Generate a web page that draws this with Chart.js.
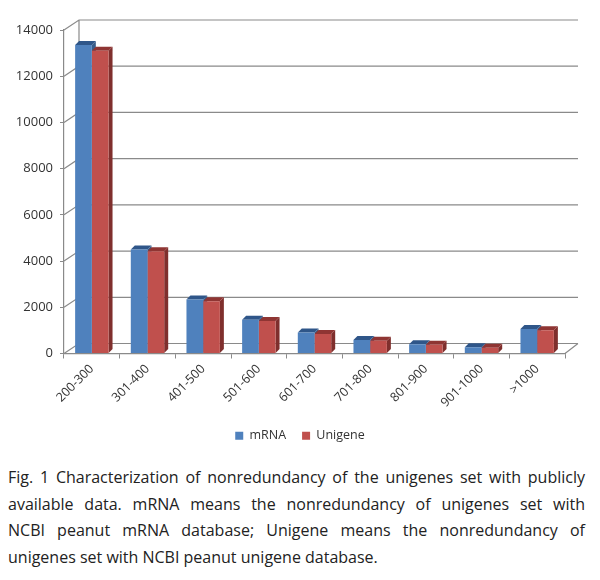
<!DOCTYPE html>
<html>
<head>
<meta charset="utf-8">
<script src="https://cdn.jsdelivr.net/npm/chart.js@4.4.1/dist/chart.umd.min.js"></script>
<style>
  body { margin: 0; background: #fff; }
  #wrap { position: relative; width: 600px; height: 452px; }
  #caption {
    position: absolute; left: 8px; top: 464px; width: 577px;
    font-family: "Open Sans", sans-serif; font-size: 16px; line-height: 26.5px;
    color: #222;
  }
  #caption div { text-align: justify; text-align-last: justify; white-space: nowrap; }
  #caption div.last { text-align-last: left; }
</style>
</head>
<body>
<div id="wrap"><canvas id="chart"></canvas></div>
<div id="caption">
  <div>Fig. 1 Characterization of nonredundancy of the unigenes set with publicly</div>
  <div>available data. mRNA means the nonredundancy of unigenes set with</div>
  <div>NCBI peanut mRNA database; Unigene means the nonredundancy of</div>
  <div class="last">unigenes set with NCBI peanut unigene database.</div>
</div>
<script>
const categories = ['200-300', '301-400', '401-500', '501-600', '601-700', '701-800', '801-900', '901-1000', '>1000'];
const mrna = [13350, 4500, 2340, 1460, 910, 580, 400, 270, 1060];
const unigene = [13100, 4420, 2260, 1410, 840, 550, 380, 250, 1010];
const yTicks = [0, 2000, 4000, 6000, 8000, 10000, 12000, 14000];

const gridColor = '#8a8a8a';
const wallDx = 15, wallDy = -10;   // back wall offset
const barDx = 4, barDy = -4;       // bar depth

// fake 3D: back wall grid + floor, then bar top/side faces
const threeD = {
  id: 'threeD',
  beforeDatasetsDraw(chart) {
    const { ctx, chartArea: a, scales: { y } } = chart;
    ctx.save();
    ctx.strokeStyle = gridColor;
    ctx.lineWidth = 1.2;
    ctx.beginPath();
    yTicks.forEach(v => {
      const py = y.getPixelForValue(v);
      ctx.moveTo(a.left, py);
      ctx.lineTo(a.left + wallDx, py + wallDy);
      ctx.lineTo(a.right + 13, py + wallDy);
    });
    ctx.moveTo(a.left + wallDx, y.getPixelForValue(14000) + wallDy);
    ctx.lineTo(a.left + wallDx, a.bottom + wallDy);
    ctx.moveTo(a.right, a.bottom);
    ctx.lineTo(a.right + 13, a.bottom + wallDy);
    ctx.stroke();

    const sides = ['#385d8a', '#7f2f2d'];
    const tops = ['#2f5689', '#8f3533'];
    chart.data.datasets.forEach((ds, i) => {
      chart.getDatasetMeta(i).data.forEach(bar => {
        const l = bar.x - bar.width / 2, r = bar.x + bar.width / 2;
        const t = bar.y, b = bar.base;
        ctx.fillStyle = sides[i];
        ctx.beginPath();
        ctx.moveTo(r, t); ctx.lineTo(r + barDx, t + barDy);
        ctx.lineTo(r + barDx, b + barDy); ctx.lineTo(r, b);
        ctx.closePath(); ctx.fill();
        ctx.fillStyle = tops[i];
        ctx.beginPath();
        ctx.moveTo(l, t); ctx.lineTo(l + barDx, t + barDy);
        ctx.lineTo(r + barDx, t + barDy); ctx.lineTo(r, t);
        ctx.closePath(); ctx.fill();
      });
    });
    ctx.restore();
  }
};

new Chart(document.getElementById('chart'), {
  type: 'bar',
  data: {
    labels: categories,
    datasets: [
      { label: 'mRNA', data: mrna, backgroundColor: '#4f81bd' },
      { label: 'Unigene', data: unigene, backgroundColor: '#c0504d' }
    ]
  },
  options: {
    responsive: true,
    maintainAspectRatio: false,
    animation: false,
    categoryPercentage: 0.6,
    barPercentage: 1,
    layout: { padding: { top: 30, right: 0, left: 0, bottom: 0 } },
    scales: {
      x: {
        grid: { drawOnChartArea: false, drawTicks: true, tickLength: 5, color: gridColor, offset: true },
        border: { display: true, color: gridColor, width: 1.2 },
        ticks: {
          minRotation: 45, maxRotation: 45, color: '#333',
          font: { family: 'Open Sans', size: 12.5 }
        },
        afterFit(scale) { scale.height = 60; }
      },
      y: {
        min: 0, max: 14000,
        afterBuildTicks(scale) { scale.ticks = yTicks.map(v => ({ value: v })); },
        grid: { drawOnChartArea: false, drawTicks: true, tickLength: 4, color: gridColor },
        border: { display: true, color: gridColor, width: 1.2 },
        ticks: {
          color: '#333', padding: 7,
          font: { family: 'Open Sans', size: 13 },
          callback: v => String(v)
        },
        afterFit(scale) { scale.width = 64; }
      },
      // empty right-hand spacer so the legend stays centred on the page
      spacer: {
        position: 'right', min: 0, max: 1,
        grid: { display: false }, border: { display: false },
        ticks: { display: false },
        afterFit(scale) { scale.width = 35; }
      }
    },
    plugins: {
      legend: {
        position: 'bottom',
        labels: {
          boxWidth: 8, boxHeight: 8, padding: 16, color: '#333',
          font: { family: 'Open Sans', size: 12.5 }
        }
      },
      tooltip: { enabled: false }
    }
  },
  plugins: [threeD]
});
</script>
</body>
</html>
